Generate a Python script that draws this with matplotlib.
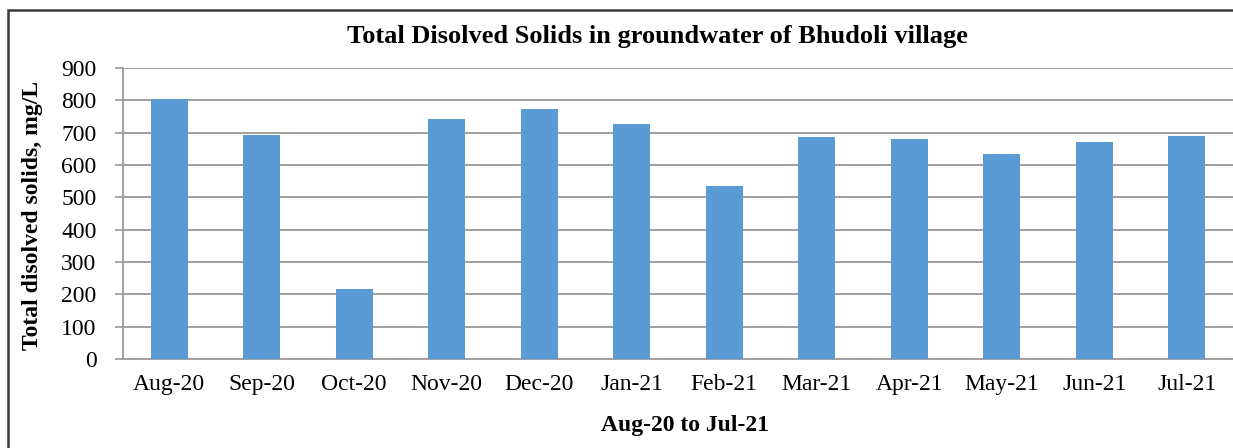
import matplotlib
matplotlib.use("Agg")
import matplotlib.pyplot as plt
import numpy as np
from matplotlib.patches import Rectangle

months = ["Aug-20", "Sep-20", "Oct-20", "Nov-20", "Dec-20", "Jan-21",
          "Feb-21", "Mar-21", "Apr-21", "May-21", "Jun-21", "Jul-21"]
tds = [803, 692, 218, 742, 773, 728, 535, 686, 679, 635, 672, 691]

plt.rcParams["font.family"] = ["Liberation Serif", "DejaVu Serif"]

W, H = 1233, 448
fig = plt.figure(figsize=(W / 100, H / 100), dpi=100)
# plot area in pixels: x 123..1233, y 68..359
ax = fig.add_axes([123 / W, 1 - 359 / H, (1233 - 123) / W, (359 - 68) / H])

x = np.arange(len(months))
ax.bar(x, tds, width=0.4, color="#5B9BD5", zorder=3)

ax.set_xlim(-0.5, len(months) - 0.5)
ax.set_ylim(0, 900)
ax.set_yticks(np.arange(0, 901, 100))
ax.set_xticks(x)
ax.set_xticklabels(months, fontsize=17)
ax.tick_params(axis="y", labelsize=17, length=6, color="#A0A0A0", width=1.3, pad=13)
ax.tick_params(axis="x", length=0, pad=11)
ax.grid(axis="y", color="#A0A0A0", linewidth=1.4, zorder=0)

for side in ["top", "right"]:
    ax.spines[side].set_visible(False)
for side in ["left", "bottom"]:
    ax.spines[side].set_color("#A0A0A0")
    ax.spines[side].set_linewidth(1.4)

fig.text(685 / W, 1 - 425 / H, "Aug-20 to Jul-21", ha="center", va="center",
         fontsize=17, fontweight="bold")
fig.text(33 / W, 1 - 215 / H, "Total disolved solids, mg/L", ha="center", va="center",
         rotation=90, fontsize=17, fontweight="bold")
fig.text(657 / W, 1 - 37 / H, "Total Disolved Solids in groundwater of Bhudoli village",
         ha="center", va="center", fontsize=19, fontweight="bold")

# outer chart border (right and bottom edges fall outside the picture)
fig.patches.append(Rectangle((8 / W, -0.05), 1.2, 1 - 10 / H + 0.05,
                             transform=fig.transFigure, fill=False,
                             edgecolor="#3A3A3A", linewidth=1.8))

fig.savefig("out.png", dpi=100, facecolor="white")
